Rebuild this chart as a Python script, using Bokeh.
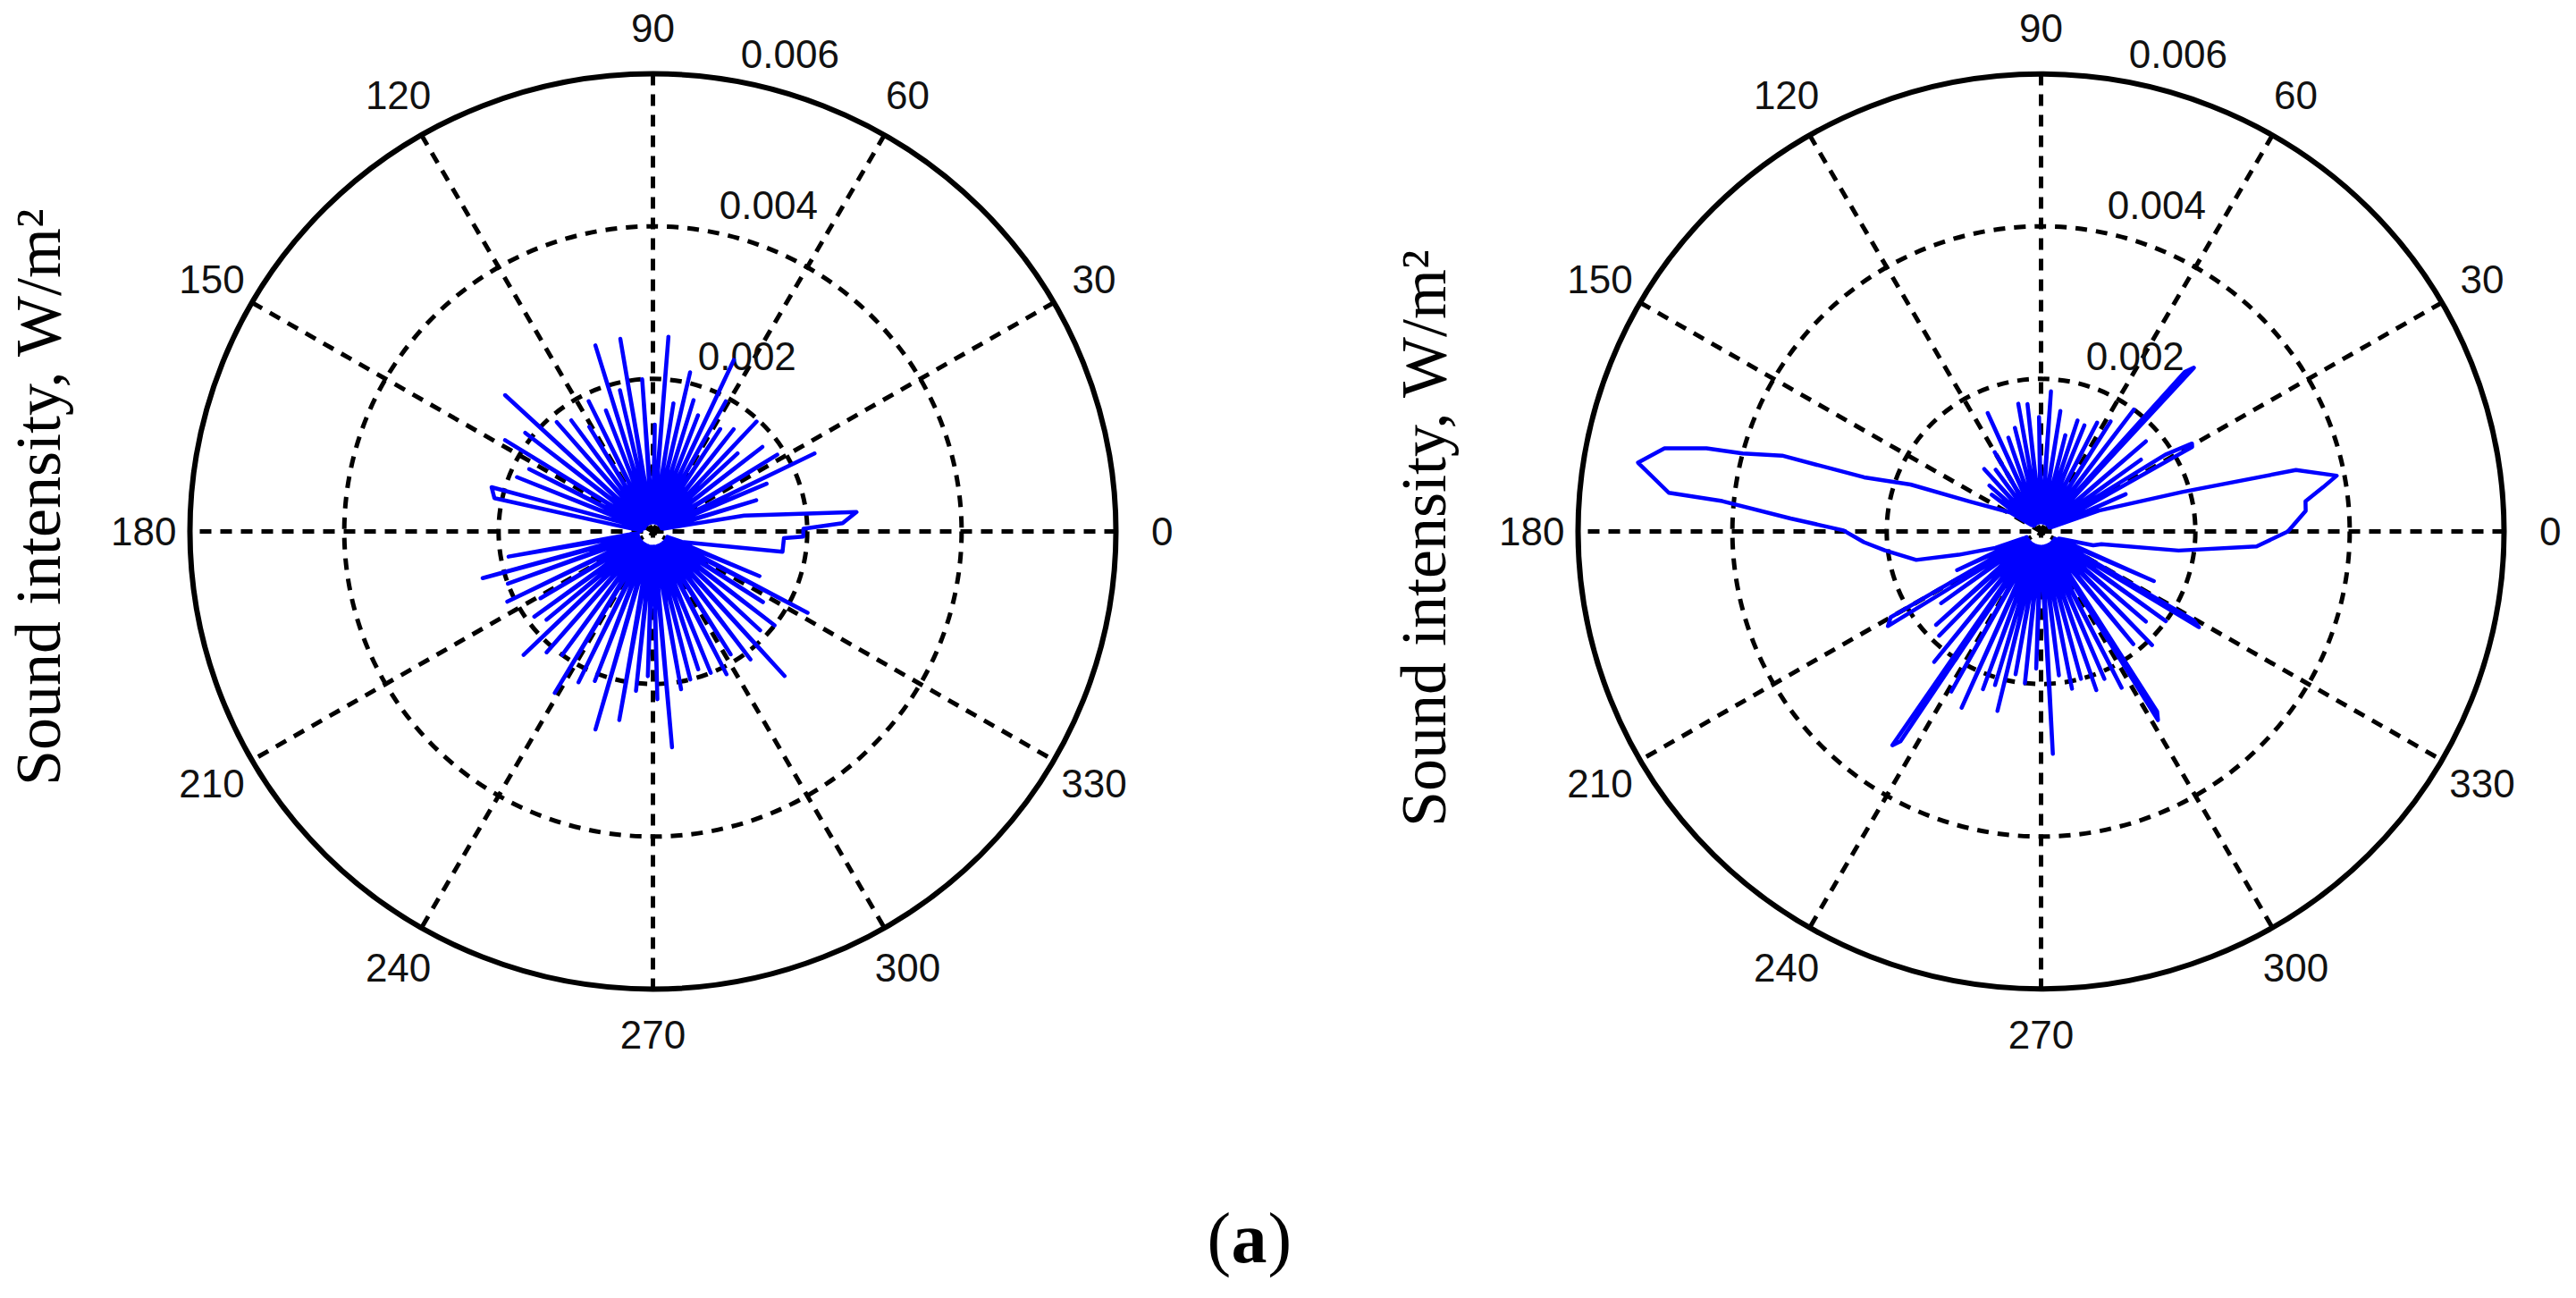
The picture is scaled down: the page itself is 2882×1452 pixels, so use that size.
import numpy as np
from bokeh.plotting import figure
from bokeh.models import Range1d
from bokeh.core.properties import value
from bokeh.embed import file_html
from bokeh.resources import INLINE

# ---------------- data ----------------
R_MAX = 0.006
RING_VALUES = [0.002, 0.004]
RING_TICKS = [0.002, 0.004, 0.006]
RING_TICK_LABELS = ["0.002", "0.004", "0.006"]
SPOKE_DEG = [0, 30, 60, 90, 120, 150]
ANGLE_DEG = [0, 30, 60, 90, 120, 150, 180, 210, 240, 270, 300, 330]
ANGLE_LABELS = ["0", "30", "60", "90", "120", "150", "180", "210", "240", "270", "300", "330"]
Y_LABEL = "Sound intensity,  W/m\u00b2"
CAPTION = ["(", "a", ")"]

# left polar: angle (deg) / sound intensity (W/m^2) vertices of the measured curve
left_theta = [340, 351, 357, 358, 1, 2.5, 5.5, 10, 14, 17, 20, 23, 25, 26, 28, 32, 35, 38, 40, 43,
              45, 47, 49, 52, 55, 57, 59, 61, 63, 65, 67, 69, 71, 73, 75, 77, 79, 81, 83, 85.5,
              87, 89, 91, 94, 97, 99.5, 101, 103, 105, 107, 109, 111, 113, 116, 118, 121, 123, 126, 128, 131,
              134, 137, 139, 142, 145, 148, 150, 153, 156, 158, 161, 164.5, 168, 171, 176, 182, 187, 190, 193, 195.5,
              198, 200, 203, 206, 208, 211, 213, 216, 218, 220, 222, 224, 226, 229, 231, 234, 236, 239, 241, 244,
              246, 249, 251, 254, 256, 260, 262, 264, 266, 268, 270, 271.5, 273, 275, 277, 280, 282, 284, 286, 288,
              290, 292, 294, 297, 299, 302, 304, 307, 309, 312, 314, 317, 319, 322, 324, 327, 329, 332, 334, 337,
              339, 340]
left_intensity = [0.0004, 0.0017, 0.0017, 0.00195, 0.00195, 0.00246, 0.00265, 0.0012, 0.00015, 0.0014,
                  0.00012, 0.0016, 0.00015, 0.00233, 0.00012, 0.0019, 0.00015, 0.0018, 0.00012, 0.0015,
                  0.00015, 0.00197, 0.00012, 0.0017, 0.00015, 0.0016, 0.00012, 0.00195, 0.00015, 0.00248,
                  0.00012, 0.00163, 0.00015, 0.0018, 0.00012, 0.00214, 0.00015, 0.0017, 0.00012, 0.00256,
                  0.00015, 0.0014, 0.00012, 0.0020, 0.00015, 0.00256, 0.00012, 0.0019, 0.00015, 0.00255,
                  0.00012, 0.0017, 0.00015, 0.0019, 0.00012, 0.0016, 0.00015, 0.0018, 0.00012, 0.0019,
                  0.00015, 0.00262, 0.00012, 0.0021, 0.00015, 0.00226, 0.00012, 0.0018, 0.00015, 0.0019,
                  0.00012, 0.00217, 0.0021, 0.0004, 0.00015, 0.0002, 0.0003, 0.0019, 0.0002, 0.00229,
                  0.00025, 0.0020, 0.0002, 0.0021, 0.00025, 0.0017, 0.0002, 0.0019, 0.00025, 0.0018,
                  0.0002, 0.00233, 0.00025, 0.0021, 0.0002, 0.0020, 0.00025, 0.00247, 0.0002, 0.0022,
                  0.00025, 0.0021, 0.0002, 0.0027, 0.00025, 0.00251, 0.0002, 0.0021, 0.00025, 0.0019,
                  0.0002, 0.0022, 0.00025, 0.00284, 0.0002, 0.0021, 0.00025, 0.0020, 0.0002, 0.0019,
                  0.00025, 0.0020, 0.0002, 0.0021, 0.00025, 0.0019, 0.0002, 0.0021, 0.00025, 0.00255,
                  0.0002, 0.0019, 0.00025, 0.0020, 0.0002, 0.0017, 0.00025, 0.00227, 0.0002, 0.0015,
                  0.0002, 0.0004]

# right polar
right_theta = [340, 345, 348, 352, 356, 0, 4.5, 6.6, 9, 10.8, 13.7, 15.8, 20, 22, 24, 26, 29.5, 30.5, 32, 34,
               36, 38, 41, 43, 47.3, 48.3, 50, 53, 55, 58, 60, 63, 65, 68, 70, 72, 74, 76, 78, 81,
               83, 86, 88, 91, 93, 96, 98, 100, 102, 104, 106, 109, 111, 114, 116, 120, 123, 126, 129, 132,
               135, 138, 141, 143, 146, 148, 157, 160, 162.8, 163.5, 165.2, 165.9, 167.4, 170.2, 174, 174.5, 177, 179.7, 183.5, 187,
               193, 196, 200, 202, 205, 207, 210, 212, 214, 216, 218, 222, 224, 226, 228, 231, 233, 235.5, 236.5, 238,
               241, 243, 246, 248, 250, 252, 253.5, 255, 256.5, 258, 260, 262, 264, 266, 268, 270, 273, 275, 277, 279,
               281, 283, 285, 287, 289, 291, 293, 295, 297, 299, 301.5, 302.5, 305, 309, 311, 314, 316, 319, 321, 324,
               326, 328.5, 329.5, 332, 336, 338, 340]
right_intensity = [0.0003, 0.0007, 0.0008, 0.0018, 0.0028, 0.0032, 0.00344, 0.00345, 0.0037, 0.0039,
                   0.0034, 0.0019, 0.0008, 0.00015, 0.0012, 0.00012, 0.00225, 0.00227, 0.0019, 0.00015,
                   0.0016, 0.00012, 0.0018, 0.00015, 0.00292, 0.0028, 0.00012, 0.0020, 0.00015, 0.0017,
                   0.00012, 0.0016, 0.00015, 0.0015, 0.00012, 0.00153, 0.00015, 0.0013, 0.00012, 0.0016,
                   0.00015, 0.00184, 0.00012, 0.0015, 0.00015, 0.00168, 0.00012, 0.0017, 0.00015, 0.0014,
                   0.00012, 0.0013, 0.00015, 0.0017, 0.00012, 0.0012, 0.00015, 0.0010, 0.00012, 0.0011,
                   0.00015, 0.0009, 0.00012, 0.0008, 0.00015, 0.00047, 0.0010, 0.0018, 0.0024, 0.0035,
                   0.0040, 0.00447, 0.0050, 0.0053, 0.00485, 0.00415, 0.00325, 0.00256, 0.0023, 0.00204,
                   0.00166, 0.00111, 0.00063, 0.0002, 0.0012, 0.00025, 0.00225, 0.00234, 0.0002, 0.0016,
                   0.00025, 0.00183, 0.0002, 0.0019, 0.00025, 0.0022, 0.0002, 0.0034, 0.0033, 0.00025,
                   0.0024, 0.0002, 0.00253, 0.00025, 0.0022, 0.0002, 0.0021, 0.00025, 0.00242, 0.0002,
                   0.0019, 0.00025, 0.0020, 0.0002, 0.0018, 0.00025, 0.00292, 0.0002, 0.0019, 0.00025,
                   0.0021, 0.0002, 0.0020, 0.00025, 0.0022, 0.0002, 0.0021, 0.00025, 0.0023, 0.0002,
                   0.0029, 0.0028, 0.00025, 0.0019, 0.0002, 0.00207, 0.00025, 0.0018, 0.0002, 0.0020,
                   0.00025, 0.0024, 0.0023, 0.0002, 0.0016, 0.00025, 0.0003]

# ---------------- layout ----------------
W, H = 2866, 1436
PX_X = 518 / R_MAX      # screen px per W/m^2 horizontally
PX_Y = 512 / R_MAX      # vertically
C0X, C0Y = 730, 594     # canvas px of the left polar origin


def dx(page_x):
    return (page_x - 8 - C0X) / PX_X


def dy(page_y):
    return (C0Y - (page_y - 8)) / PX_Y


p = figure(width=W, height=H, output_backend="svg", toolbar_location=None,
           x_range=Range1d(-C0X / PX_X, (W - C0X) / PX_X),
           y_range=Range1d(-(H - C0Y) / PX_Y, C0Y / PX_Y),
           min_border=0, outline_line_color=None)
p.axis.visible = False
p.grid.visible = False
p.background_fill_color = "white"
p.border_fill_color = "white"

TICK_FONT = value("Liberation Sans")
SERIF = value("Liberation Serif")


def polar(cx, theta, inten, ylabel_xy):
    # dashed rings
    for rv in RING_VALUES:
        p.ellipse(x=[cx], y=[0], width=[2 * rv], height=[2 * rv], fill_color=None,
                  line_color="black", line_width=5, line_dash="13 10")
    # spokes
    a = np.deg2rad(SPOKE_DEG)
    p.segment(x0=cx + R_MAX * np.cos(a), y0=R_MAX * np.sin(a),
              x1=cx - R_MAX * np.cos(a), y1=-R_MAX * np.sin(a),
              line_color="black", line_width=5, line_dash="13 10")
    # outer circle
    p.ellipse(x=[cx], y=[0], width=[2 * R_MAX], height=[2 * R_MAX], fill_color=None,
              line_color="black", line_width=6)
    # angle labels
    b = np.deg2rad(ANGLE_DEG)
    p.text(x=cx + 1.1 * R_MAX * np.cos(b), y=1.1 * R_MAX * np.sin(b), text=ANGLE_LABELS,
           text_font=TICK_FONT, text_font_size="44px", text_color="#111111",
           text_align="center", text_baseline="middle")
    # ring value labels at 82 degrees
    c82 = np.deg2rad(82)
    rr = np.array(RING_TICKS) + 0.002 / 20
    p.text(x=cx + rr * np.cos(c82), y=rr * np.sin(c82), text=RING_TICK_LABELS,
           text_font=TICK_FONT, text_font_size="44px", text_color="#111111",
           text_align="left", text_baseline="bottom", x_offset=25, y_offset=-3)
    # measured curve
    t = np.deg2rad(theta)
    r = np.array(inten)
    p.line(x=cx + r * np.cos(t), y=r * np.sin(t), line_color="#0000ff", line_width=4.5,
           line_join="round")
    # y label
    p.text(x=[dx(ylabel_xy[0])], y=[dy(ylabel_xy[1])], text=[Y_LABEL], angle=np.pi / 2,
           text_font=SERIF, text_font_size="72px", text_color="black",
           text_align="center", text_baseline="middle")


polar(0.0, left_theta, left_intensity, (50, 554))
polar(dx(2291), right_theta, right_intensity, (1600, 600))

# caption "(a)"
cap_x = [1358, 1385, 1426]
cap_style = ["normal", "bold", "normal"]
for cx_, ch, st in zip(cap_x, CAPTION, cap_style):
    p.text(x=[dx(cx_)], y=[dy(1392)], text=[ch], text_font=SERIF, text_font_size="80px",
           text_font_style=st, text_align="left", text_baseline="middle", text_color="black")

open("out.html", "w").write(file_html(p, INLINE))
